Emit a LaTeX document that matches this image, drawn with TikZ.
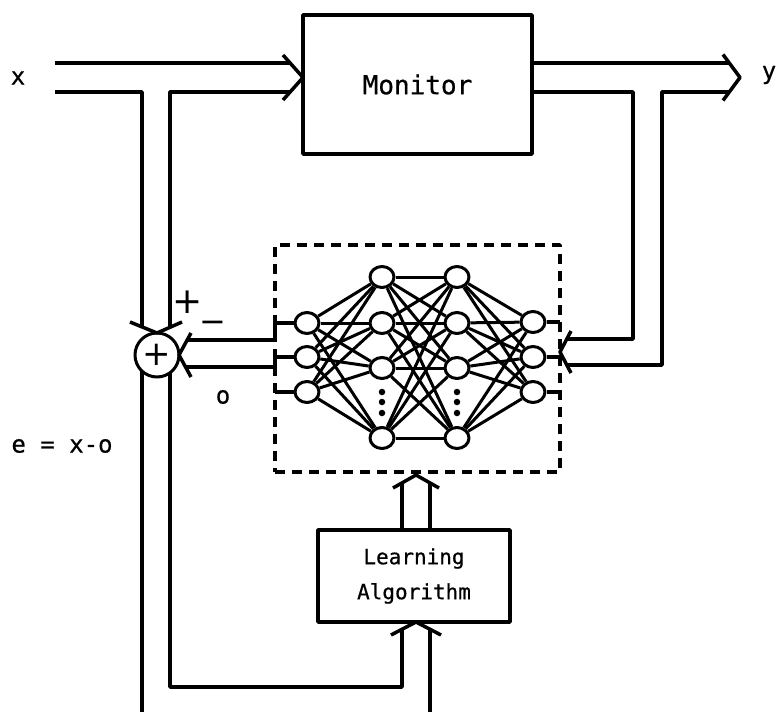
\documentclass[tikz,border=0pt]{standalone}
\usepackage{fontspec}
\usetikzlibrary{shapes.geometric}
\newfontfamily\diagfont{DejaVu Sans Mono}[FakeBold=0.6]
\newfontfamily\symfont{DejaVu Sans}

\begin{document}
\begin{tikzpicture}[x=1pt,y=-1pt,line width=3.5pt,line join=round]
\tikzstyle{box}=[draw,line width=3.5pt,inner sep=0pt]
\tikzstyle{unit}=[draw,ellipse,line width=3pt,fill=white,minimum width=24pt,minimum height=21pt,inner sep=0pt]
\tikzstyle{dot}=[circle,fill,inner sep=0pt,minimum size=6.5pt]
\tikzstyle{lbl}=[inner sep=0pt]
\tikzstyle{link}=[line width=3pt]
\useasboundingbox (0,0) rectangle (776,712);

% blocks
\node[box,minimum width=229pt,minimum height=139pt,font=\diagfont\fontsize{26}{26}\selectfont] (monitor) at (417.5,84.5) {Monitor};
\node[box,minimum width=192pt,minimum height=92pt,align=center,font=\diagfont\fontsize{21}{35}\selectfont] (learn) at (414,576) {Learning\\Algorithm};
\node[draw,line width=3.5pt,dash pattern=on 10pt off 7pt,minimum width=285pt,minimum height=227pt,inner sep=0pt] (net) at (417.5,358.5) {};
\node[draw,circle,line width=3pt,minimum size=44pt,inner sep=0pt,font=\symfont\fontsize{34}{34}\selectfont] (sum) at (157,355) {+};

% network units
\foreach \i/\y in {1/323,2/357,3/392} \node[unit] (i\i) at (307,\y) {};
\foreach \i/\y in {1/277,2/323,3/368,4/438} \node[unit] (a\i) at (382,\y) {};
\foreach \i/\y in {1/277,2/323,3/368,4/438} \node[unit] (b\i) at (457,\y) {};
\foreach \i/\y in {1/322,2/357,3/392} \node[unit] (o\i) at (533,\y) {};
\foreach \y in {392,402,413} {
  \node[dot] (da\y) at (382,\y) {};
  \node[dot] (db\y) at (457,\y) {};
}
\foreach \s in {1,2,3} \foreach \t in {1,...,4} \draw[link] (i\s) -- (a\t);
\foreach \s in {1,...,4} \foreach \t in {1,...,4} \draw[link] (a\s) -- (b\t);
\foreach \s in {1,...,4} \foreach \t in {1,2,3} \draw[link] (b\s) -- (o\t);

% wire ends and corners
\coordinate (xa) at (55,63);   \coordinate (xb) at (55,92);
\coordinate (ma) at (290,63);  \coordinate (mb) at (290,92);
\coordinate (mtip) at (303,77.5);
\coordinate (lo) at (142,92);  \coordinate (li) at (170,92);
\coordinate (st1) at (142,327); \coordinate (st2) at (170,327);
\coordinate (stip) at (157,333);
\coordinate (sb1) at (142,371); \coordinate (sb2) at (170,372);
\coordinate (bo) at (142,712);  \coordinate (bi) at (170,687);
\coordinate (bc) at (402,687);  \coordinate (bz) at (430,712);
\coordinate (lb1) at (402,629); \coordinate (lb2) at (430,629);
\coordinate (ltip) at (416,622);
\coordinate (la1) at (402,530); \coordinate (la2) at (430,530);
\coordinate (lt1) at (402,483); \coordinate (lt2) at (430,483);
\coordinate (ntip) at (416,475);
\coordinate (n1) at (275,340);  \coordinate (n2) at (275,367);
\coordinate (sr1) at (187,340); \coordinate (sr2) at (186,367);
\coordinate (rtip) at (179,355);
\coordinate (oa) at (532,63);   \coordinate (ob) at (532,92);
\coordinate (ya) at (729,63);   \coordinate (yb) at (729,92);
\coordinate (otip) at (740,77.5);
\coordinate (fo) at (633,92);   \coordinate (fi) at (662,92);
\coordinate (fa) at (567,339);  \coordinate (fb) at (567,365);
\coordinate (ftip) at (560,352);

% input x
\draw (xa) -- (ma);
\draw (xb) -- (lo) -- (st1);
\draw (st2) -- (li) -- (mb);
\draw (mtip) ++(-20,-22.5) -- (mtip) -- ++(-20,22.5);
% into the summer
\draw (stip) ++(-27,-11) -- (stip) -- ++(25,-11);
\draw (n1) -- (sr1);
\draw (n2) -- (sr2);
\draw (rtip) ++(12,-22) -- (rtip) -- ++(12,22);
% error to learning algorithm
\draw (sb1) -- (bo);
\draw (sb2) -- (bi) -- (bc) -- (lb1);
\draw (bz) -- (lb2);
\draw (ltip) ++(-25,13) -- (ltip) -- ++(25,13);
\draw (la1) -- (lt1);
\draw (la2) -- (lt2);
\draw (ntip) ++(-23,13) -- (ntip) -- ++(23,13);
% network terminals
\draw (n1) -- (275,323) -- (i1.west);
\draw (n2) -- (275,357) -- (i2.west);
\draw (275,392) -- (i3.west);
\draw (o1.east) -- (560,322);
\draw (o2.east) -- (560,357);
\draw (o3.east) -- (560,392);
% output y
\draw (oa) -- (ya);
\draw (ob) -- (fo) |- (fa);
\draw (yb) -- (fi) |- (fb);
\draw (otip) ++(-17,-23) -- (otip) -- ++(-17,23);
\draw (ftip) ++(11,-21) -- (ftip) -- ++(11,21);

% labels
\node[lbl,font=\diagfont\fontsize{24}{24}\selectfont] (xlbl) at (18,78) {x};
\node[lbl,font=\diagfont\fontsize{24}{24}\selectfont] (ylbl) at (769,75) {y};
\node[lbl,font=\symfont\fontsize{36}{36}\selectfont] (plus) at (188,302) {+};
\node[lbl,font=\symfont\fontsize{32}{32}\selectfont] (minus) at (213,327) {−};
\node[lbl,font=\diagfont\fontsize{24}{24}\selectfont] (olbl) at (223,397) {o};
\node[lbl,font=\diagfont\fontsize{24}{24}\selectfont] (elbl) at (62,446) {e = x-o};
\end{tikzpicture}
\end{document}
